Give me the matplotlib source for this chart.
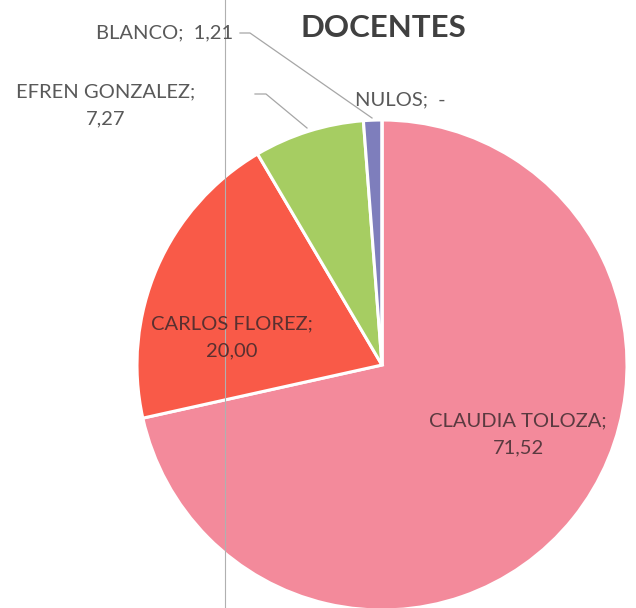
import matplotlib
matplotlib.use("Agg")
from matplotlib import pyplot as plt

candidatos = ["CLAUDIA TOLOZA", "CARLOS FLOREZ", "EFREN GONZALEZ", "BLANCO", "NULOS"]
porcentajes = [71.52, 20.00, 7.27, 1.21, 0.0]
etiquetas = ["71,52", "20,00", "7,27", "1,21", "-"]
colores = ["#F38A9B", "#F95A48", "#A6CD62", "#7E7EBC", "#4F81BD"]

plt.rcParams['font.family'] = ['Lato', 'DejaVu Sans']

fig = plt.figure(figsize=(6.36, 6.08), dpi=100)
ax = fig.add_axes([0, 0, 1, 1])

# centro y radio en pixeles (y hacia arriba)
cx, cy, r = 382, 608 - 365, 245
ax.pie(porcentajes, colors=colores, startangle=90, counterclock=False,
       center=(cx, cy), radius=r,
       wedgeprops=dict(edgecolor="white", linewidth=2.2))
ax.set_xlim(0, 636)
ax.set_ylim(0, 608)
ax.set_aspect("equal")
ax.axis("off")

txt = "#595959"
fs = 14.5
ls = 1.7
ax.text(383, 608 - 28, "DOCENTES", ha="center", va="center",
        fontsize=22.5, fontweight="bold", color="#404040")

# etiquetas
ax.text(233, 608 - 33, f"{candidatos[3]};  {etiquetas[3]}", ha="right", va="center",
        fontsize=fs, color=txt)
ax.text(106, 608 - 105, f"{candidatos[2]};\n{etiquetas[2]}", ha="center", va="center",
        fontsize=fs, color=txt, linespacing=ls)
ax.text(400, 608 - 100, f"{candidatos[4]};  {etiquetas[4]}", ha="center", va="center",
        fontsize=fs, color=txt)
ax.text(232, 608 - 337, f"{candidatos[1]};\n{etiquetas[1]}", ha="center", va="center",
        fontsize=fs, color="#5a3030", linespacing=ls)
ax.text(518, 608 - 434, f"{candidatos[0]};\n{etiquetas[0]}", ha="center", va="center",
        fontsize=fs, color="#5a3a40", linespacing=ls)

# lineas guia
ax.plot([240, 250, 372], [608 - 33, 608 - 33, 608 - 118], color="#a6a6a6", lw=0.9)
ax.plot([255, 266, 307], [608 - 94, 608 - 94, 608 - 128], color="#a6a6a6", lw=0.9)

# linea vertical del escaneo
ax.plot([225, 225], [0, 608], color="#b0b0b0", lw=0.8)

plt.savefig("out.png", dpi=100)
